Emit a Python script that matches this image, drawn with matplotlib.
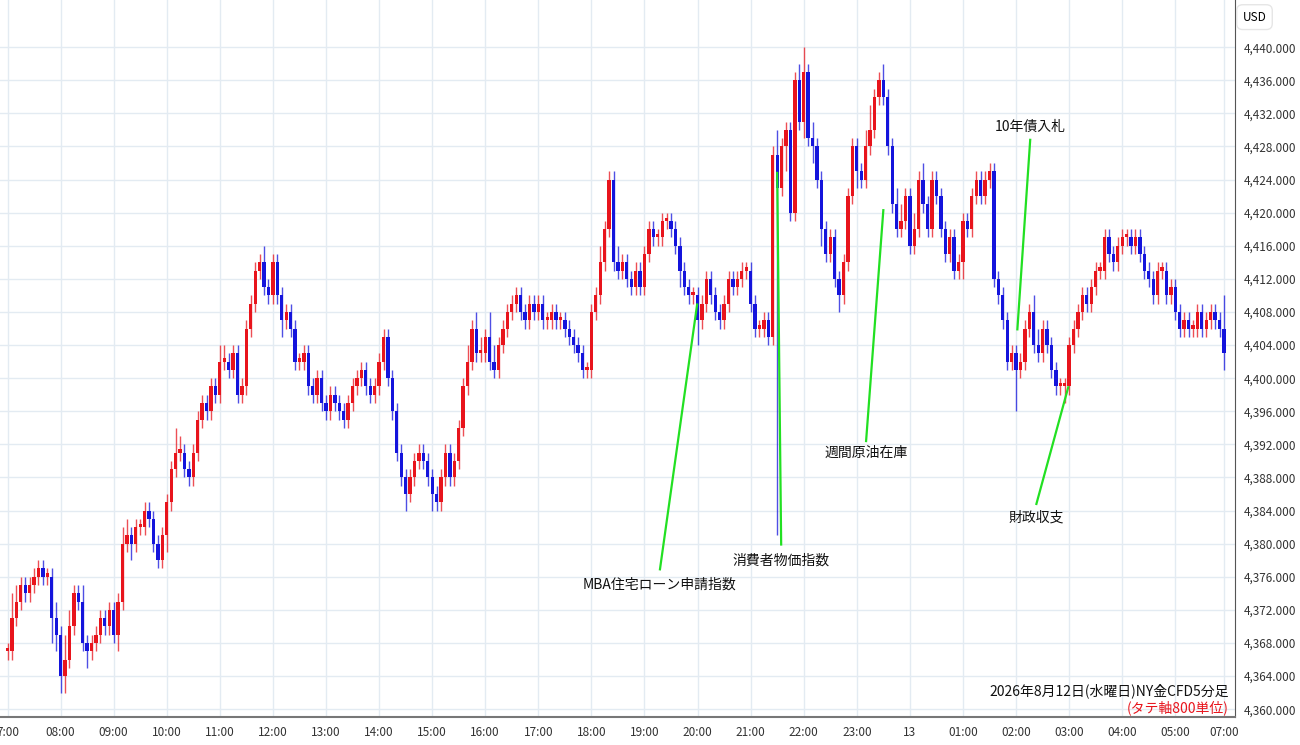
import numpy as np
import matplotlib.pyplot as plt
from matplotlib.ticker import FuncFormatter

plt.rcParams['font.family'] = ['Noto Sans CJK JP', 'DejaVu Sans']

# 5-minute closes, one row per hour, 07:00 -> 06:00
closes = [
    4367, 4371, 4373, 4375, 4374, 4375, 4376, 4377, 4376, 4376, 4371, 4369,   # 07
    4364, 4366, 4370, 4374, 4373, 4368, 4367, 4368, 4369, 4371, 4370, 4372,   # 08
    4369, 4373, 4380, 4381, 4380, 4382, 4382, 4384, 4383, 4380, 4378, 4381,   # 09
    4385, 4389, 4391, 4391, 4389, 4388, 4391, 4395, 4397, 4396, 4399, 4398,   # 10
    4402, 4402, 4401, 4403, 4398, 4399, 4406, 4409, 4413, 4414, 4411, 4410,   # 11
    4414, 4410, 4407, 4408, 4406, 4402, 4402, 4403, 4399, 4398, 4400, 4397,   # 12
    4396, 4398, 4397, 4396, 4395, 4397, 4399, 4400, 4401, 4399, 4398, 4399,   # 13
    4402, 4405, 4400, 4396, 4391, 4388, 4386, 4388, 4390, 4391, 4390, 4388,   # 14
    4386, 4385, 4388, 4391, 4388, 4390, 4394, 4399, 4402, 4406, 4403, 4403,   # 15
    4405, 4402, 4401, 4404, 4406, 4408, 4409, 4410, 4408, 4407, 4409, 4408,   # 16
    4409, 4407, 4407, 4408, 4407, 4407, 4406, 4405, 4404, 4403, 4401, 4401,   # 17
    4408, 4410, 4414, 4418, 4424, 4414, 4413, 4414, 4412, 4411, 4413, 4411,   # 18
    4415, 4418, 4417, 4417, 4419, 4419, 4418, 4416, 4413, 4411, 4410, 4410,   # 19
    4407, 4409, 4412, 4410, 4408, 4407, 4409, 4412, 4411, 4412, 4413, 4413,   # 20
    4409, 4406, 4406, 4407, 4405, 4427, 4423, 4428, 4430, 4420, 4436, 4431,   # 21
    4437, 4429, 4428, 4424, 4418, 4415, 4417, 4412, 4410, 4414, 4422, 4428,   # 22
    4425, 4424, 4428, 4430, 4434, 4436, 4434, 4428, 4421, 4418, 4419, 4422,   # 23
    4416, 4418, 4424, 4421, 4418, 4424, 4422, 4418, 4415, 4417, 4413, 4414,   # 00
    4419, 4418, 4422, 4424, 4422, 4424, 4425, 4412, 4410, 4407, 4402, 4403,   # 01
    4401, 4402, 4406, 4408, 4404, 4403, 4406, 4404, 4401, 4399, 4399, 4399,   # 02
    4404, 4406, 4408, 4410, 4409, 4411, 4413, 4413, 4417, 4415, 4414, 4416,   # 03
    4417, 4417, 4416, 4417, 4415, 4413, 4412, 4410, 4413, 4413, 4410, 4411,   # 04
    4408, 4406, 4407, 4406, 4406, 4408, 4406, 4407, 4408, 4407, 4406, 4403,   # 05
]
first_open = 4367
up_wick = [
    1, 3, 2, 1, 1, 1, 1, 1, 1, 1, 1, 2,
    1, 3, 2, 1, 1, 2, 1, 1, 1, 1, 1, 1,
    1, 1, 2, 2, 1, 1, 1, 1, 1, 1, 1, 1,
    1, 1, 3, 2, 1, 1, 1, 1, 1, 1, 1, 1,
    2, 2, 1, 1, 1, 1, 1, 1, 1, 1, 2, 1,
    1, 1, 1, 1, 1, 1, 1, 1, 1, 1, 1, 1,
    1, 1, 1, 1, 1, 1, 1, 1, 1, 1, 1, 1,
    1, 1, 1, 1, 1, 1, 1, 1, 1, 1, 1, 1,
    1, 1, 1, 1, 1, 1, 1, 1, 2, 1, 2, 2,
    1, 3, 2, 1, 1, 1, 1, 1, 1, 1, 1, 1,
    1, 1, 1, 1, 1, 1, 1, 1, 1, 1, 1, 1,
    1, 1, 2, 1, 1, 1, 2, 1, 1, 1, 1, 1,
    1, 1, 1, 1, 1, 1, 1, 1, 1, 1, 1, 1,
    1, 1, 1, 1, 1, 1, 1, 1, 1, 1, 1, 1,
    1, 1, 1, 1, 1, 1, 3, 1, 1, 1, 1, 2,
    3, 1, 2, 1, 1, 1, 1, 1, 1, 1, 1, 1,
    1, 1, 2, 3, 1, 1, 2, 1, 1, 2, 2, 1,
    1, 2, 1, 2, 1, 1, 1, 1, 1, 1, 1, 1,
    1, 1, 1, 1, 1, 1, 1, 1, 1, 1, 1, 1,
    1, 1, 1, 1, 2, 2, 1, 1, 1, 1, 1, 1,
    1, 1, 1, 1, 1, 1, 1, 1, 1, 1, 1, 1,
    1, 1, 1, 1, 1, 1, 1, 1, 1, 1, 1, 1,
    1, 1, 1, 1, 1, 1, 1, 1, 1, 1, 1, 4,
]
dn_wick = [
    1, 1, 1, 1, 1, 1, 1, 1, 1, 1, 3, 2,
    2, 2, 1, 1, 1, 1, 2, 1, 1, 1, 1, 1,
    1, 2, 1, 1, 2, 1, 1, 1, 1, 1, 1, 1,
    2, 1, 1, 1, 1, 1, 1, 1, 1, 1, 1, 1,
    1, 1, 1, 1, 1, 1, 1, 1, 1, 1, 1, 1,
    1, 1, 2, 1, 1, 1, 1, 1, 1, 1, 1, 1,
    1, 1, 1, 1, 1, 1, 1, 1, 1, 1, 1, 1,
    1, 1, 1, 1, 1, 1, 2, 1, 1, 1, 1, 1,
    2, 1, 1, 1, 1, 1, 1, 1, 1, 1, 1, 1,
    1, 1, 1, 1, 1, 1, 1, 1, 1, 1, 1, 1,
    1, 1, 1, 1, 1, 1, 1, 1, 1, 1, 1, 1,
    1, 1, 1, 1, 1, 1, 1, 1, 1, 1, 1, 1,
    1, 1, 1, 1, 1, 1, 1, 1, 2, 1, 1, 1,
    3, 1, 1, 1, 1, 1, 1, 1, 1, 1, 1, 1,
    1, 1, 1, 1, 1, 1, 42, 1, 3, 1, 1, 1,
    2, 1, 2, 1, 2, 1, 1, 1, 2, 1, 1, 1,
    2, 1, 1, 1, 1, 1, 1, 1, 1, 1, 1, 1,
    1, 1, 1, 1, 1, 1, 1, 1, 1, 1, 1, 1,
    2, 1, 1, 1, 1, 1, 1, 1, 1, 1, 1, 1,
    5, 1, 1, 1, 1, 1, 1, 1, 1, 1, 1, 2,
    1, 1, 1, 1, 1, 1, 1, 1, 1, 1, 1, 1,
    1, 1, 1, 1, 1, 1, 1, 1, 1, 1, 1, 1,
    1, 1, 1, 1, 1, 1, 1, 1, 1, 1, 1, 2,
]
hour_labels = ['7:00', '08:00', '09:00', '10:00', '11:00', '12:00', '13:00',
               '14:00', '15:00', '16:00', '17:00', '18:00', '19:00', '20:00',
               '21:00', '22:00', '23:00', '13', '01:00', '02:00', '03:00',
               '04:00', '05:00', '07:00']
events = ['MBA住宅ローン申請指数', '消費者物価指数', '週間原油在庫', '10年債入札', '財政収支']

closes = np.array(closes, dtype=float)
opens = np.concatenate([[first_open], closes[:-1]])
highs = np.maximum(opens, closes) + np.array(up_wick)
lows = np.minimum(opens, closes) - np.array(dn_wick)
idx = np.arange(len(closes))
up = closes >= opens

RED, BLUE = '#e8141c', '#1414dc'
colors = np.where(up, RED, BLUE)

fig = plt.figure(figsize=(13, 7.45), dpi=100)
ax = fig.add_axes([0.0, 0.037, 0.95, 0.963])

ax.vlines(idx, lows, highs, colors=colors, linewidth=1.0, alpha=0.75)
body = np.abs(closes - opens)
body = np.where(body < 0.4, 0.4, body)
ax.bar(idx, body, bottom=np.minimum(opens, closes), width=0.75, color=colors)

ax.set_xlim(-1.7, 277.5)
ax.set_ylim(4359.0, 4445.7)
ax.yaxis.tick_right()
ax.set_yticks(np.arange(4360, 4441, 4))
ax.yaxis.set_major_formatter(FuncFormatter(lambda v, p: f'{v:,.3f}'))
ticks = list(range(0, 12 * 23, 12)) + [275]
ax.set_xticks(ticks)
ax.set_xticklabels(hour_labels)
ax.tick_params(length=0, labelsize=8.5, colors='#333333', pad=6)
ax.grid(True, color='#e3ebf2', linewidth=1)
ax.set_axisbelow(True)
for s in ['top', 'left']:
    ax.spines[s].set_visible(False)
ax.spines['right'].set_color('#555555')
ax.spines['bottom'].set_color('#777777')
ax.spines['bottom'].set_linewidth(1.5)

# event callouts: (text x, text y, line start y, target x, target y)
callouts = [
    (147.5, 4375.1, 4376.9, 155.9, 4408.9),
    (174.9, 4377.9, 4379.9, 174.0, 4424.8),
    (194.1, 4391.0, 4392.4, 198.0, 4420.3),
    (231.2, 4430.4, 4428.8, 228.3, 4405.9),
    (232.6, 4383.2, 4384.8, 239.8, 4398.9),
]
for name, (tx, ty, ly, px, py) in zip(events, callouts):
    ax.plot([tx, px], [ly, py], color='#22e022', linewidth=1.6, zorder=3)
    ax.text(tx, ty, name, ha='center', va='center', fontsize=10, color='#111111')

ax.text(0.995, 0.027, '2026年8月12日(水曜日)NY金CFD5分足', transform=ax.transAxes,
        ha='right', va='bottom', fontsize=10, color='#111111')
ax.text(0.995, 0.003, '(タテ軸800単位)', transform=ax.transAxes,
        ha='right', va='bottom', fontsize=10, color='#e8141c')
fig.text(0.965, 0.977, 'USD', ha='center', va='center', fontsize=8.5,
         bbox=dict(boxstyle='round,pad=0.5', fc='white', ec='#e6e6e6'))

fig.savefig('out.png')
